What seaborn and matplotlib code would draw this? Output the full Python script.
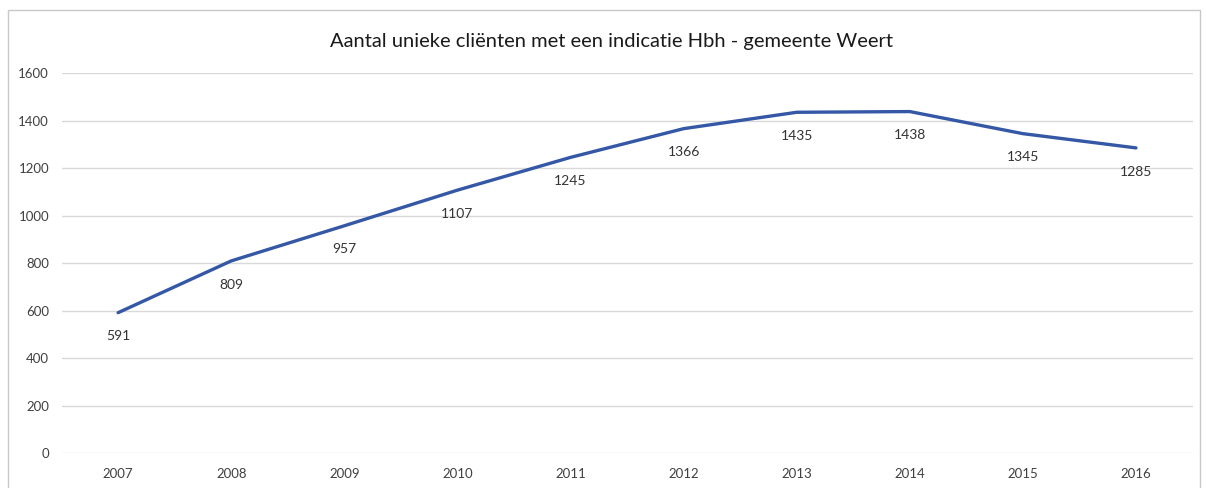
import matplotlib
matplotlib.use("Agg")
import matplotlib.pyplot as plt
import seaborn as sns
import pandas as pd
from matplotlib.patches import Rectangle

years = [2007, 2008, 2009, 2010, 2011, 2012, 2013, 2014, 2015, 2016]
clients = [591, 809, 957, 1107, 1245, 1366, 1435, 1438, 1345, 1285]
yticks = [0, 200, 400, 600, 800, 1000, 1200, 1400, 1600]

df = pd.DataFrame({'jaar': years, 'clienten': clients})

sns.set_theme(style='white')
plt.rcParams['font.family'] = ['Lato', 'DejaVu Sans']

fig = plt.figure(figsize=(12.07, 4.88), dpi=100)
ax = fig.add_axes([0.051, 0.0717, 0.937, 0.7785])

sns.lineplot(data=df, x='jaar', y='clienten', ax=ax,
             color='#3457a6', linewidth=2.4)

# labels onder de punten
for x, y in zip(years, clients):
    ax.annotate(str(y), (x, y), xytext=(0, -17), textcoords='offset points',
                ha='center', va='center', fontsize=10, color='#333333')

ax.set_xlim(2006.5, 2016.5)
ax.set_ylim(0, 1600)
ax.set_yticks(yticks)
ax.set_xticks(years)
ax.set_xticklabels([str(y) for y in years])
ax.grid(axis='y', color='#d9d9d9', linewidth=1)
ax.grid(axis='x', visible=False)
for s in ax.spines.values():
    s.set_visible(False)
ax.tick_params(axis='y', length=0, labelsize=9.5, colors='#404040', pad=9)
ax.tick_params(axis='x', length=0, labelsize=9.5, colors='#404040', pad=11)
ax.set_xlabel('')
ax.set_ylabel('')

fig.text(0.507, 0.914, 'Aantal unieke cliënten met een indicatie Hbh - gemeente Weert',
         ha='center', va='center', fontsize=14.5, color='#1a1a1a')

# rand van het kader
fig.patches.append(Rectangle((8 / 1207, -0.01), 1192 / 1207, 1 - 10 / 488 + 0.01,
                             transform=fig.transFigure, fill=False,
                             edgecolor='#c8c8c8', linewidth=1))

fig.savefig('out.png', dpi=100)
